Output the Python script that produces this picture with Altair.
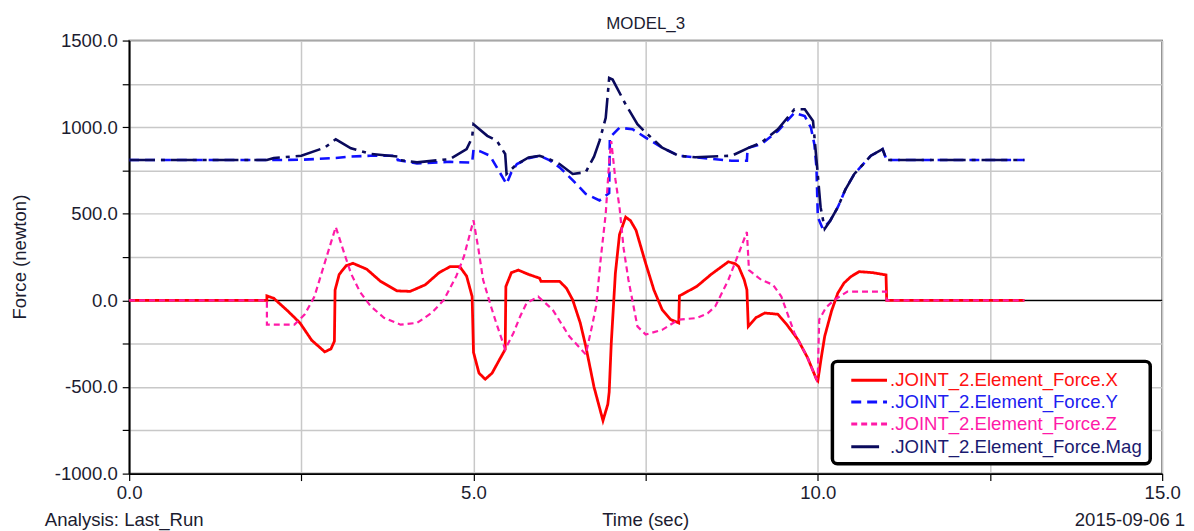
import altair as alt
import pandas as pd

# ---------------- data ----------------
X_T = [0, 2.0, 2.0, 2.1, 2.3, 2.48, 2.65, 2.84, 2.93, 2.98, 2.99, 3.05, 3.15, 3.25, 3.45, 3.65, 3.89, 4.08,
       4.3, 4.5, 4.66, 4.8, 4.9, 4.98, 5.0, 5.08, 5.17, 5.27, 5.38, 5.46, 5.47, 5.55, 5.65, 5.8, 5.96, 5.98,
       6.25, 6.35, 6.44, 6.55, 6.63, 6.75, 6.88, 6.95, 6.97, 7.0, 7.06, 7.12, 7.21, 7.28, 7.36, 7.5, 7.62,
       7.74, 7.86, 7.98, 7.99, 8.24, 8.45, 8.7, 8.8, 8.85, 8.93, 8.97, 8.99, 9.1, 9.23, 9.42, 9.55, 9.71,
       9.85, 9.98, 10.0, 10.05, 10.1, 10.2, 10.29, 10.38, 10.48, 10.6, 10.8, 10.99, 11.0, 13.0]
X_V = [0, 0, 26, 12, -60, -130, -230, -297, -280, -236, 60, 150, 200, 214, 180, 110, 55, 52,
       90, 160, 195, 195, 140, 22, -300, -420, -455, -420, -340, -283, 80, 160, 175, 150, 128, 110,
       110, 70, 3, -130, -264, -500, -694, -600, -531, -250, 156, 380, 481, 460, 405, 214, 60,
       -54, -110, -130, 26, 80, 150, 223, 212, 195, 120, 61, -150, -100, -73, -80, -140, -226,
       -330, -455, -464, -330, -207, -60, 42, 100, 137, 166, 160, 147, 0, 0]

Y_T = [0, 2.0, 2.5, 3.0, 3.2, 3.5, 3.88, 3.9, 4.18, 4.66, 4.98, 5.0, 5.1, 5.24, 5.35, 5.48, 5.55, 5.63,
       5.8, 5.96, 6.1, 6.25, 6.45, 6.63, 6.83, 6.97, 6.98, 7.12, 7.31, 7.5, 7.74, 7.98, 8.22, 8.75, 8.97,
       8.98, 9.18, 9.42, 9.66, 9.81, 9.9, 9.95, 9.98, 10.0, 10.07, 10.18, 10.29, 10.4, 10.53, 10.77,
       10.94, 11.0, 13.0]
Y_V = [810, 810, 812, 822, 830, 835, 835, 810, 791, 800, 795, 870, 860, 835, 760, 672, 740, 787,
       820, 835, 810, 768, 690, 615, 577, 620, 940, 997, 988, 940, 882, 835, 826, 806, 806,
       880, 902, 978, 1083, 1064, 997, 900, 768, 481, 414, 460, 538, 640, 730, 835,
       873, 810, 810]

Z_T = [0, 2.0, 2.0, 2.4, 2.55, 2.69, 2.85, 3.0, 3.1, 3.22, 3.35, 3.51, 3.7, 3.94, 4.18, 4.4, 4.57, 4.75,
       4.86, 5.0, 5.07, 5.14, 5.25, 5.33, 5.46, 5.58, 5.68, 5.77, 5.94, 6.15, 6.39, 6.63, 6.72, 6.78,
       6.85, 6.92, 6.97, 7.0, 7.06, 7.12, 7.18, 7.25, 7.38, 7.5, 7.74, 7.98, 8.24, 8.4, 8.51, 8.7, 8.85,
       8.97, 9.0, 9.18, 9.35, 9.47, 9.66, 9.85, 9.98, 10.0, 10.02, 10.12, 10.24, 10.43, 10.99, 11.0, 13.0]
Z_V = [0, 0, -140, -140, -80, 22, 230, 424, 300, 156, 50, -35, -100, -140, -130, -70, 3, 140,
       252, 462, 300, 118, -30, -130, -283, -188, -90, -16, 22, -54, -207, -312, -150, -35,
       250, 500, 800, 920, 700, 538, 300, 118, -150, -197, -170, -111, -102, -75, -35, 118, 271,
       395, 175, 118, 90, 22, -188, -330, -455, -417, -111, -40, 3, 51, 51, 0, 0]

M_T = [0, 2.0, 2.1, 2.5, 2.84, 3.0, 3.22, 3.51, 3.9, 3.92, 4.18, 4.66, 4.9, 4.98, 5.0, 5.2, 5.34, 5.46,
       5.48, 5.63, 5.8, 5.96, 6.1, 6.25, 6.44, 6.63, 6.75, 6.83, 6.92, 6.97, 7.02, 7.21, 7.38, 7.5, 7.74,
       7.98, 8.22, 8.75, 9.0, 9.18, 9.42, 9.66, 9.81, 9.93, 9.99, 10.04, 10.1, 10.18, 10.29, 10.4, 10.53,
       10.77, 10.94, 11.0, 13.0]
M_V = [810, 810, 822, 835, 882, 930, 878, 845, 830, 810, 797, 816, 873, 940, 1017, 950, 921, 845,
       730, 787, 825, 835, 815, 787, 730, 740, 830, 921, 1054, 1284, 1275, 1131, 1017, 969, 882,
       835, 826, 835, 882, 911, 988, 1103, 1103, 1036, 768, 538, 414, 460, 538, 640, 730,
       835, 873, 810, 810]

SERIES = [".JOINT_2.Element_Force.X", ".JOINT_2.Element_Force.Y",
          ".JOINT_2.Element_Force.Z", ".JOINT_2.Element_Force.Mag"]
X_TICKS = [0, 2.5, 5, 7.5, 10, 12.5, 15]
Y_TICKS = [-1000, -750, -500, -250, 0, 250, 500, 750, 1000, 1250, 1500]

# ---------------- styling ----------------
COLORS = ["#ff0000", "#1010ff", "#ff1aa8", "#0a0a5c"]
TEXT_COLORS = ["#ff1010", "#2020f0", "#ff1aa8", "#1a1a70"]
DASHES = [[1, 0], [10, 6], [6, 4], [26, 6, 4, 6]]
WIDTHS = [2.8, 2.6, 2.2, 2.6]
FONT = "Liberation Sans"
TXT = "#1c1c30"
FS = 18.7

W, H = 1040, 436

xs = alt.Scale(domain=[0, 15], nice=False, zero=False)
ys = alt.Scale(domain=[-1000, 1500], nice=False, zero=False)

x_axis = alt.Axis(values=X_TICKS,
                  labelExpr="datum.value % 5 == 0 ? format(datum.value, '.1f') : ''",
                  grid=True, gridColor="#c8c8c8", gridWidth=1.5,
                  tickSize=7, tickColor="#000", tickWidth=1.2,
                  domainColor="#000", domainWidth=1.8,
                  labelFont=FONT, labelFontSize=FS, labelColor=TXT, labelPadding=3,
                  labelFlush=False, labelOverlap=False, title=None)
y_axis = alt.Axis(values=Y_TICKS,
                  labelExpr="datum.value % 500 == 0 ? replace(format(datum.value, '.1f'), '\u2212', '-') : ''",
                  grid=True, gridColor="#c8c8c8", gridWidth=1.5,
                  tickSize=7, tickColor="#000", tickWidth=1.2,
                  domainColor="#000", domainWidth=1.8,
                  labelFont=FONT, labelFontSize=FS, labelColor=TXT, labelPadding=5,
                  labelOverlap=False, title=None)


def frame(ts, vs):
    return pd.DataFrame({"t": ts, "v": vs, "i": list(range(len(ts)))})


grid_layer = alt.Chart(pd.DataFrame({"t": [0, 15], "v": [-1000, 1500]})).mark_point(opacity=0).encode(
    x=alt.X("t:Q", scale=xs, axis=x_axis),
    y=alt.Y("v:Q", scale=ys, axis=y_axis),
)

zero_rule = alt.Chart(pd.DataFrame({"v": [0]})).mark_rule(color="#000", strokeWidth=1.3).encode(
    y=alt.Y("v:Q", scale=ys)
)

layers = [grid_layer, zero_rule]
data_sets = [(X_T, X_V), (Y_T, Y_V), (Z_T, Z_V), (M_T, M_V)]
for k, (ts, vs) in enumerate(data_sets):
    layers.append(
        alt.Chart(frame(ts, vs)).mark_line(
            color=COLORS[k], strokeWidth=WIDTHS[k], strokeDash=DASHES[k], interpolate="linear"
        ).encode(
            x=alt.X("t:Q", scale=xs),
            y=alt.Y("v:Q", scale=ys),
            order=alt.Order("i:Q"),
        )
    )

# ---------------- legend box ----------------
one = pd.DataFrame({"a": [0]})
layers.append(
    alt.Chart(one).mark_rect(fill="white", stroke="#000", strokeWidth=3.5, cornerRadius=5).encode(
        x=alt.value(708), x2=alt.value(1028), y=alt.value(323), y2=alt.value(426)
    )
)
leg_y = [342, 364, 386, 409]
leg_x2 = [763, 763, 763, 755]
for k, name in enumerate(SERIES):
    layers.append(
        alt.Chart(one).mark_rule(color=COLORS[k], strokeWidth=3, strokeDash=DASHES[k][:2] if k != 3 else [1, 0]).encode(
            x=alt.value(727), x2=alt.value(leg_x2[k]), y=alt.value(leg_y[k])
        )
    )
    layers.append(
        alt.Chart(pd.DataFrame({"label": [name]})).mark_text(
            align="left", baseline="middle", font=FONT, fontSize=FS, color=TEXT_COLORS[k]
        ).encode(x=alt.value(766), y=alt.value(leg_y[k]), text="label:N")
    )

# ---------------- titles and captions ----------------
def caption(text, x, y, align="left", angle=0, size=FS):
    return alt.Chart(pd.DataFrame({"label": [text]})).mark_text(
        align=align, baseline="alphabetic", font=FONT, fontSize=size, color=TXT, angle=angle
    ).encode(x=alt.value(x), y=alt.value(y), text="label:N")


layers.append(caption("MODEL_3", W / 2, -12, align="center", size=17))
layers.append(caption("Force (newton)", -104, 218, align="center", angle=270))
layers.append(caption("Analysis: Last_Run", -85, 489))
layers.append(caption("Time (sec)", W / 2, 489, align="center"))
layers.append(caption("2015-09-06 1", 952, 489))

chart = alt.layer(*layers).properties(
    width=W, height=H,
    padding={"left": 122, "top": 31, "right": 24, "bottom": 56},
    autosize=alt.AutoSizeParams(type="none"),
    background="white",
).configure_view(stroke="#444", strokeWidth=1.5)

chart.save("out.html", embed_options={"renderer": "svg", "actions": False})
